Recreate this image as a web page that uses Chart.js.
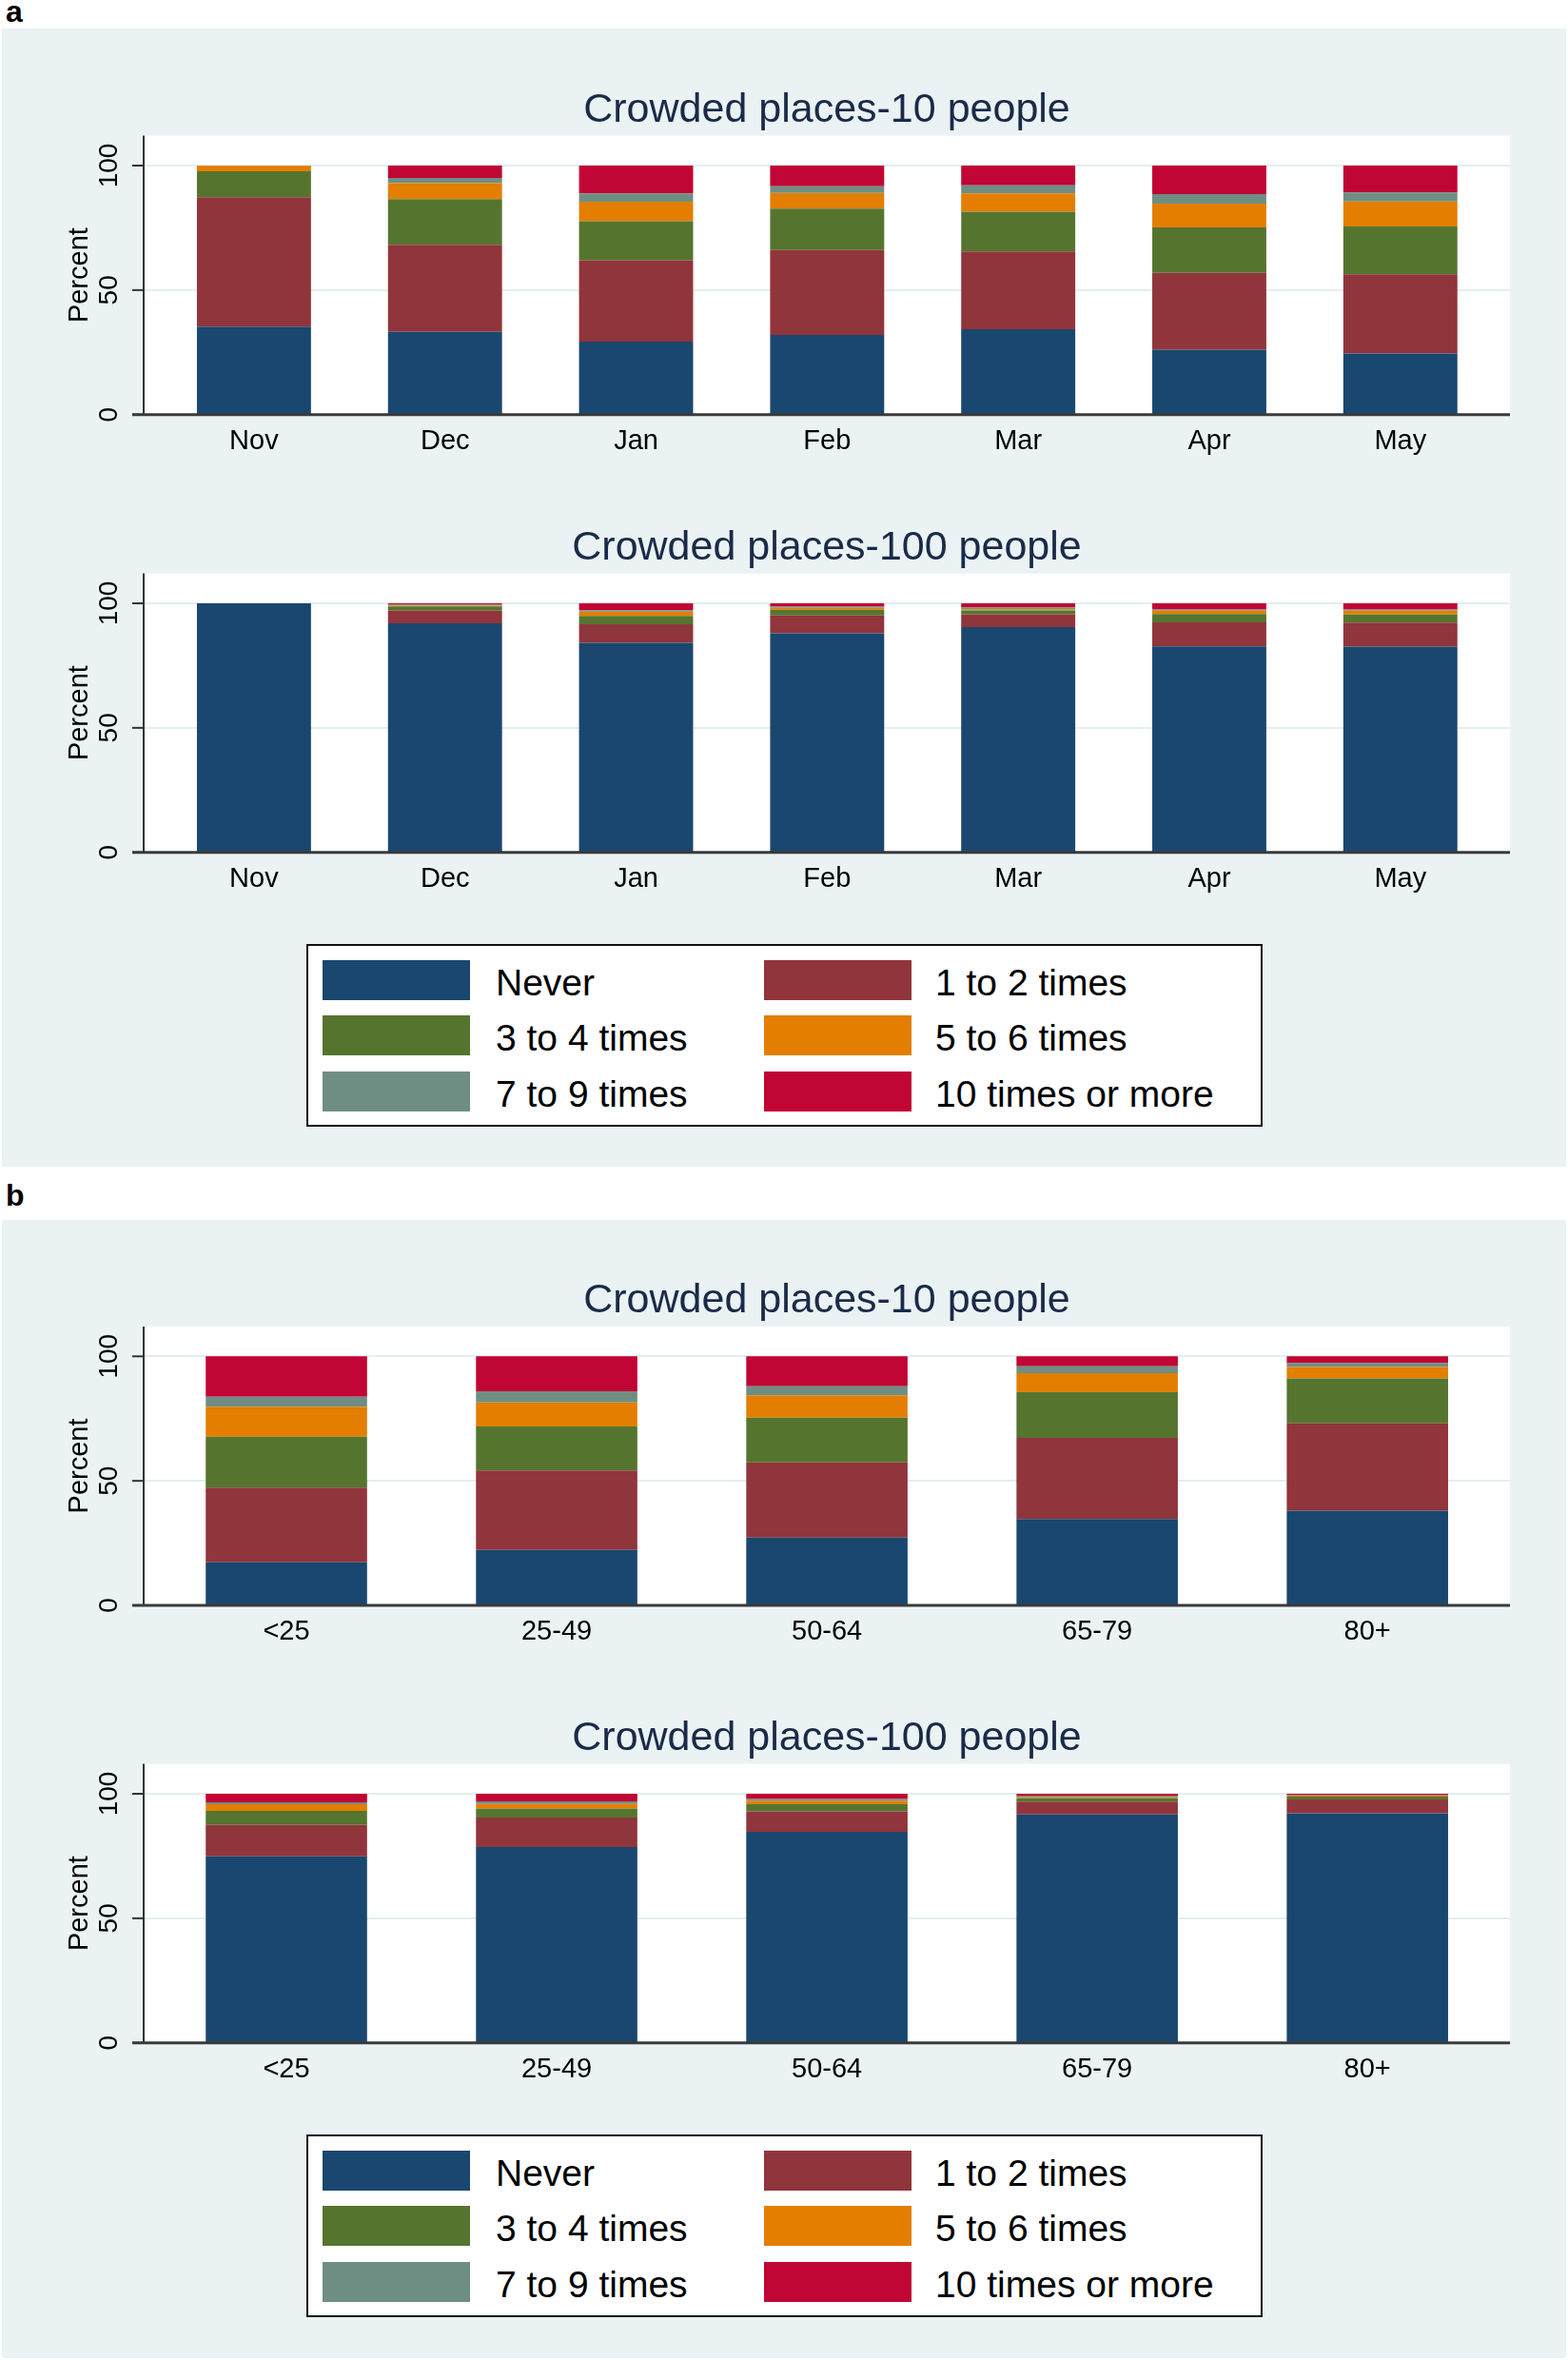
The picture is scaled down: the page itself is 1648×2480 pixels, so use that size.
<!DOCTYPE html>
<html>
<head>
<meta charset="utf-8">
<script src="https://cdn.jsdelivr.net/npm/chart.js@4.4.1/dist/chart.umd.min.js"></script>
<style>
  html, body { margin: 0; padding: 0; background: #fff; }
  body { position: relative; width: 1648px; height: 2480px; overflow: hidden;
         font-family: 'Liberation Sans', Arial, sans-serif; }
  .panel { position: absolute; left: 2px; width: 1644px; background: #eaf2f3; }
  .tag { position: absolute; left: 6px; font: bold 32px/32px 'Liberation Sans', Arial, sans-serif; color: #000; }
  canvas { position: absolute; left: 0; }
  .legend { position: absolute; left: 322px; width: 1005px; height: 192px; box-sizing: border-box;
            border: 2px solid #111; background: #fff; }
  .sw { position: absolute; width: 155px; height: 42px; }
  .lt { position: absolute; font-size: 39px; line-height: 42px; color: #000; white-space: nowrap; }
</style>
</head>
<body>
<div class="panel" style="top:30px;height:1196px"></div>
<div class="panel" style="top:1282px;height:1196px"></div>
<div class="tag" style="top:-4px">a</div>
<div class="tag" style="top:1240px">b</div>

<canvas id="chart-a10" width="1648" height="480" style="top:40px"></canvas>
<canvas id="chart-a100" width="1648" height="460" style="top:520px"></canvas>
<div class="legend" id="legend-a" style="top:992px"></div>

<canvas id="chart-b10" width="1648" height="480" style="top:1290px"></canvas>
<canvas id="chart-b100" width="1648" height="460" style="top:1770px"></canvas>
<div class="legend" id="legend-b" style="top:2243px"></div>

<script>
'use strict';

/* 카테고리 */
const MONTHS = ['Nov', 'Dec', 'Jan', 'Feb', 'Mar', 'Apr', 'May'];
const AGES   = ['<25', '25-49', '50-64', '65-79', '80+'];
const FREQ   = ['Never', '1 to 2 times', '3 to 4 times', '5 to 6 times', '7 to 9 times', '10 times or more'];
const Y_TICKS = [0, 50, 100];

/* a: 월별, 10명 */
const a10Never = [35.3, 33.2, 29.3, 32.0, 34.3, 26.1, 24.5];
const a10One   = [52.0, 35.0, 32.7, 34.1, 31.2, 30.8, 31.8];
const a10Three = [10.4, 18.3, 15.6, 16.6, 16.0, 18.3, 19.2];
const a10Five  = [ 2.2,  6.4,  7.9,  6.3,  7.3,  9.5, 10.1];
const a10Seven = [ 0.0,  2.1,  3.3,  2.7,  3.3,  3.8,  3.6];
const a10Ten   = [ 0.1,  5.0, 11.2,  8.3,  7.9, 11.5, 10.8];

/* a: 월별, 100명 */
const a100Never = [100, 92.0, 84.1, 88.0, 90.4, 82.7, 82.6];
const a100One   = [  0,  5.1,  7.5,  7.1,  5.2,  9.7,  9.7];
const a100Three = [  0,  1.7,  3.3,  2.3,  1.5,  3.3,  3.2];
const a100Five  = [  0,  0.3,  1.8,  0.8,  0.5,  1.3,  1.5];
const a100Seven = [  0,  0.4,  0.5,  0.5,  0.8,  0.5,  0.5];
const a100Ten   = [  0,  0.5,  2.8,  1.3,  1.6,  2.5,  2.5];

/* b: 연령별, 10명 */
const b10Never = [17.3, 22.3, 27.2, 34.7, 38.0];
const b10One   = [30.0, 31.9, 30.2, 32.6, 35.1];
const b10Three = [20.4, 17.6, 18.0, 18.3, 18.0];
const b10Five  = [12.1,  9.7,  9.0,  7.6,  4.6];
const b10Seven = [ 4.0,  4.5,  3.6,  2.8,  1.6];
const b10Ten   = [16.2, 14.0, 12.0,  4.0,  2.7];

/* b: 연령별, 100명 */
const b100Never = [74.9, 78.6, 84.7, 91.7, 92.2];
const b100One   = [12.6, 11.8,  8.2,  5.1,  5.5];
const b100Three = [ 5.6,  3.7,  2.9,  1.4,  1.2];
const b100Five  = [ 2.7,  1.8,  1.3,  0.4,  0.3];
const b100Seven = [ 0.8,  1.0,  0.8,  0.6,  0.2];
const b100Ten   = [ 3.4,  3.1,  2.1,  0.8,  0.6];

const COLORS = ['#1a476f', '#90353b', '#55752f', '#e37e00', '#6e8e84', '#c10534'];
const FONT   = "'Liberation Sans', Arial, sans-serif";

const PLOT_LEFT  = 151;
const PLOT_RIGHT = 1587;
const Y_MAX      = 112;
const PX_PER_PCT = 2.617;

/* ── Stata 스타일 축/제목 ── */
function framePlugin(title) {
  return {
    id: 'frame',
    beforeDatasetsDraw(chart) {
      const { ctx, chartArea, scales: { y } } = chart;
      ctx.save();
      ctx.fillStyle = '#fff';
      ctx.fillRect(PLOT_LEFT, chartArea.top, PLOT_RIGHT - PLOT_LEFT, chartArea.bottom - chartArea.top);
      ctx.strokeStyle = '#e3eef0';
      ctx.lineWidth = 2;
      [50, 100].forEach(v => {
        const py = Math.round(y.getPixelForValue(v));
        ctx.beginPath(); ctx.moveTo(PLOT_LEFT, py); ctx.lineTo(PLOT_RIGHT, py); ctx.stroke();
      });
      ctx.restore();
    },
    afterDatasetsDraw(chart) {
      const { ctx, chartArea, scales: { x, y } } = chart;
      const zero = y.getPixelForValue(0);
      ctx.save();
      // y 축
      ctx.strokeStyle = '#333';
      ctx.lineWidth = 2;
      ctx.beginPath(); ctx.moveTo(PLOT_LEFT, chartArea.top); ctx.lineTo(PLOT_LEFT, zero); ctx.stroke();
      Y_TICKS.forEach(v => {
        const py = y.getPixelForValue(v);
        ctx.beginPath(); ctx.moveTo(139, py); ctx.lineTo(PLOT_LEFT, py); ctx.stroke();
      });
      // x 축 (0선)
      ctx.lineWidth = 3;
      ctx.strokeStyle = '#3a3a3a';
      ctx.beginPath(); ctx.moveTo(139, zero); ctx.lineTo(PLOT_RIGHT, zero); ctx.stroke();

      // y 눈금 라벨 (세로)
      ctx.fillStyle = '#000';
      ctx.font = `28px ${FONT}`;
      ctx.textAlign = 'center';
      ctx.textBaseline = 'alphabetic';
      Y_TICKS.forEach(v => {
        ctx.save();
        ctx.translate(123, y.getPixelForValue(v));
        ctx.rotate(-Math.PI / 2);
        ctx.fillText(String(v), 0, 0);
        ctx.restore();
      });
      // y 축 제목
      ctx.save();
      ctx.font = `29px ${FONT}`;
      ctx.translate(92, (chartArea.top + zero) / 2);
      ctx.rotate(-Math.PI / 2);
      ctx.fillText('Percent', 0, 0);
      ctx.restore();

      // x 라벨
      ctx.font = `29px ${FONT}`;
      chart.data.labels.forEach((lab, i) => {
        ctx.fillText(lab, x.getPixelForValue(i), zero + 36);
      });

      // 제목
      ctx.fillStyle = '#1a2a48';
      ctx.font = `43px ${FONT}`;
      ctx.fillText(title, (PLOT_LEFT + PLOT_RIGHT) / 2, chartArea.top - 15);
      ctx.restore();
    },
  };
}

/* ── 누적 막대 ── */
function drawStack(id, canvasTop, zeroY, catLeft, catRight, labels, series, title) {
  const canvas = document.getElementById(id);
  if (!canvas) return;
  const h = canvas.height;
  const plotH = Y_MAX * PX_PER_PCT;
  new Chart(canvas, {
    type: 'bar',
    data: {
      labels,
      datasets: series.map((d, i) => ({
        label: FREQ[i],
        data: d,
        backgroundColor: COLORS[i],
        borderWidth: 0,
        barPercentage: 1,
        categoryPercentage: 0.597,
      })),
    },
    options: {
      responsive: false,
      animation: false,
      layout: {
        padding: {
          top: zeroY - canvasTop - plotH,
          bottom: canvasTop + h - zeroY,
          left: catLeft,
          right: 1648 - catRight,
        },
      },
      plugins: { legend: { display: false }, tooltip: { enabled: false } },
      scales: {
        x: { stacked: true, display: false, offset: true },
        y: { stacked: true, display: false, min: 0, max: Y_MAX },
      },
    },
    plugins: [framePlugin(title)],
  });
}

/* ── 범례 ── */
function drawLegend(id) {
  const box = document.getElementById(id);
  if (!box) return;
  box.innerHTML = FREQ.map((name, i) => {
    const col = i % 2, row = Math.floor(i / 2);
    const sx = col ? 479 : 15;
    const tx = col ? 659 : 197;
    const ty = [15, 73, 132][row];
    return `<div class="sw" style="left:${sx}px;top:${ty}px;background:${COLORS[i]}"></div>
            <div class="lt" style="left:${tx}px;top:${ty + 3}px">${name}</div>`;
  }).join('');
}

drawStack('chart-a10', 40, 435.7, 166.5, 1572.2, MONTHS,
  [a10Never, a10One, a10Three, a10Five, a10Seven, a10Ten], 'Crowded places-10 people');
drawStack('chart-a100', 520, 895.7, 166.5, 1572.2, MONTHS,
  [a100Never, a100One, a100Three, a100Five, a100Seven, a100Ten], 'Crowded places-100 people');
drawStack('chart-b10', 1290, 1687, 159, 1579.2, AGES,
  [b10Never, b10One, b10Three, b10Five, b10Seven, b10Ten], 'Crowded places-10 people');
drawStack('chart-b100', 1770, 2146.7, 159, 1579.2, AGES,
  [b100Never, b100One, b100Three, b100Five, b100Seven, b100Ten], 'Crowded places-100 people');
drawLegend('legend-a');
drawLegend('legend-b');
</script>
</body>
</html>
